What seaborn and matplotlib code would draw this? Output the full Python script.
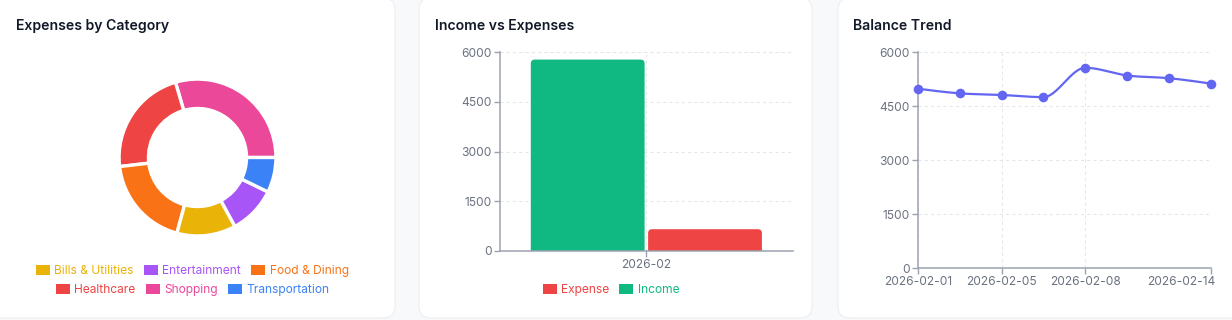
import numpy as np
import pandas as pd
import matplotlib
matplotlib.use("Agg")
import matplotlib.pyplot as plt
import seaborn as sns
from matplotlib.patches import FancyBboxPatch, Patch
from matplotlib.transforms import IdentityTransform, ScaledTranslation

# ---------------- data ----------------
categories = ['Bills & Utilities', 'Entertainment', 'Food & Dining',
              'Healthcare', 'Shopping', 'Transportation']
category_amounts = [79, 64, 123, 145, 192, 47]
category_colors = ['#eab308', '#a855f7', '#f97316', '#ef4444', '#ec4899', '#3b82f6']

months = ['2026-02']
income_values = [5780]
expense_values = [650]
flow_colors = {'Income': '#10b981', 'Expense': '#ef4444'}

balance_dates = ['2026-02-01', '2026-02-03', '2026-02-05', '2026-02-07',
                 '2026-02-08', '2026-02-10', '2026-02-12', '2026-02-14']
balance_values = [4990, 4860, 4815, 4755, 5570, 5355, 5280, 5130]
balance_tick_idx = [0, 2, 4, 7]

yticks = [0, 1500, 3000, 4500, 6000]

# ---------------- style ----------------
sns.set_theme(style='white')
plt.rcParams['font.family'] = ['Inter', 'DejaVu Sans']

W, H = 1232, 320
DPI = 100
fig = plt.figure(figsize=(W / DPI, H / DPI), dpi=DPI)
fig.patch.set_facecolor('#f8f9fa')

TICK_C = '#6b7280'
AXIS_C = '#9ca3af'
GRID_C = '#e5e7eb'
TITLE_C = '#111827'
FS = 8.64      # 12px
TFS = 10.1     # 14px


def card(x0, x1, y0=-2, y1=318):
    p = FancyBboxPatch((x0, H - y1), x1 - x0, y1 - y0,
                       boxstyle='round,pad=0,rounding_size=12',
                       transform=IdentityTransform(), facecolor='white',
                       edgecolor='#eceef1', linewidth=0.8, zorder=-10)
    fig.patches.append(p)


def ax_px(l, t, r, b):
    ax = fig.add_axes([l / W, 1 - b / H, (r - l) / W, (b - t) / H])
    ax.patch.set_alpha(0)
    return ax


def title(x, text):
    fig.text(x / W, 1 - 26 / H, text, ha='left', va='center', fontsize=TFS,
             fontweight='semibold', color=TITLE_C)


for x0, x1 in [(-14, 395), (419, 812), (838, 1246)]:
    card(x0, x1)

title(16, 'Expenses by Category')
title(435, 'Income vs Expenses')
title(853, 'Balance Trend')

# ---------------- donut ----------------
ax1 = ax_px(117.5, 77.5, 277.5, 237.5)
order = np.argsort(category_amounts)[::-1]
ax1.pie([category_amounts[i] for i in order],
        colors=[category_colors[i] for i in order],
        startangle=0, counterclock=True, radius=1.0,
        wedgeprops=dict(width=0.375, edgecolor='white', linewidth=2.4))
ax1.set_xlim(-1.02, 1.02)
ax1.set_ylim(-1.02, 1.02)
ax1.set_aspect('equal')
ax1.axis('off')

def make_legend(labels, colors, cx, cy):
    handles = [Patch(facecolor=c, edgecolor='none') for c in colors]
    leg = fig.legend(handles, labels, loc='center',
                     bbox_to_anchor=(cx / W, 1 - cy / H), ncol=len(labels),
                     frameon=False, fontsize=FS, handlelength=1.17,
                     handleheight=0.83, handletextpad=0.35, columnspacing=0.85,
                     borderpad=0, borderaxespad=0)
    for t, c in zip(leg.get_texts(), colors):
        t.set_color(c)
    return leg

make_legend(categories[:3], category_colors[:3], 192.5, 271)
make_legend(categories[3:], category_colors[3:], 192.5, 290)

# ---------------- bar chart ----------------
def style_axes(ax):
    for s in ['top', 'right']:
        ax.spines[s].set_visible(False)
    for s in ['left', 'bottom']:
        ax.spines[s].set_color(AXIS_C)
        ax.spines[s].set_linewidth(1.1)
    ax.tick_params(axis='both', colors=AXIS_C, labelcolor=TICK_C,
                   labelsize=FS, length=4.3, width=1.0, pad=1.5,
                   left=True, bottom=True)
    ax.set_yticks(yticks)
    ax.set_ylim(0, 6000)
    ax.grid(True, color=GRID_C, linestyle=(0, (3, 3)), linewidth=0.75)
    ax.set_axisbelow(True)
    ax.set_xlabel('')
    ax.set_ylabel('')

AX2 = (499.7, 52.3, 793, 250.7)
ax2 = ax_px(*AX2)
flow_df = pd.DataFrame({
    'month': months * 2,
    'type': ['Income'] * len(months) + ['Expense'] * len(months),
    'amount': income_values + expense_values,
})
sns.barplot(data=flow_df, x='month', y='amount', hue='type',
            hue_order=['Income', 'Expense'], palette=flow_colors,
            width=0.8, gap=0.03, saturation=1, ax=ax2, legend=False)
ax2.set_xlim(-0.5, 0.5)
style_axes(ax2)
ax2.axvline(0.5, color=GRID_C, linestyle=(0, (3, 3)), linewidth=0.75, zorder=0)
ax2.axhline(6000, color=GRID_C, linestyle=(0, (3, 3)), linewidth=0.75, zorder=0)

# round the top corners of seaborn's bars (4 px radius)
px_per_x = (AX2[2] - AX2[0]) / 1.0
px_per_y = (AX2[3] - AX2[1]) / 6000.0
for bar in list(ax2.patches):
    x, w, hgt = bar.get_x(), bar.get_width(), bar.get_height()
    fc = bar.get_facecolor()
    bar.set_visible(False)
    ext = 400.0
    rb = FancyBboxPatch((x, -ext), w, hgt + ext,
                        boxstyle=f'round,pad=0,rounding_size={4 / px_per_x}',
                        mutation_aspect=px_per_x / px_per_y,
                        facecolor=fc, edgecolor='none', zorder=2)
    ax2.add_patch(rb)

make_legend(['Expense', 'Income'], [flow_colors['Expense'], flow_colors['Income']], 611, 290)

# ---------------- balance line ----------------
def monotone_x(x, y, n=30):
    x = np.asarray(x, float)
    y = np.asarray(y, float)
    h = np.diff(x)
    s = np.diff(y) / h
    t = np.zeros_like(y)
    for i in range(1, len(x) - 1):
        p = (s[i - 1] * h[i] + s[i] * h[i - 1]) / (h[i - 1] + h[i])
        t[i] = (np.sign(s[i - 1]) + np.sign(s[i])) * min(abs(s[i - 1]), abs(s[i]), 0.5 * abs(p))
    t[0] = (3 * s[0] - t[1]) / 2
    t[-1] = (3 * s[-1] - t[-2]) / 2
    xs, ys = [], []
    for i in range(len(x) - 1):
        u = np.linspace(0, 1, n, endpoint=(i == len(x) - 2))
        h00 = 2 * u**3 - 3 * u**2 + 1
        h10 = u**3 - 2 * u**2 + u
        h01 = -2 * u**3 + 3 * u**2
        h11 = u**3 - u**2
        xs.append(x[i] + u * h[i])
        ys.append(h00 * y[i] + h10 * h[i] * t[i] + h01 * y[i + 1] + h11 * h[i] * t[i + 1])
    return np.concatenate(xs), np.concatenate(ys)

ax3 = ax_px(917.7, 52.3, 1211, 268.3)
idx = np.arange(len(balance_dates))
cx, cy = monotone_x(idx, balance_values)
curve_df = pd.DataFrame({'x': cx, 'y': cy})
sns.lineplot(data=curve_df, x='x', y='y', sort=False, color='#6366f1',
             linewidth=1.6, ax=ax3, zorder=3)
pts_df = pd.DataFrame({'x': idx, 'y': balance_values})
sns.scatterplot(data=pts_df, x='x', y='y', color='#6366f1', s=48,
                edgecolor='#6366f1', linewidth=0, ax=ax3, zorder=4, clip_on=False)
ax3.set_xlim(0, len(balance_dates) - 1)
style_axes(ax3)
ax3.set_xticks(balance_tick_idx)
ax3.set_xticklabels([balance_dates[i] for i in balance_tick_idx])
last = ax3.get_xticklabels()[-1]
last.set_ha('right')
last.set_transform(last.get_transform() + ScaledTranslation(4 / 72 * 0.75, 0, fig.dpi_scale_trans))

fig.savefig('out.png', dpi=DPI, facecolor=fig.get_facecolor())
